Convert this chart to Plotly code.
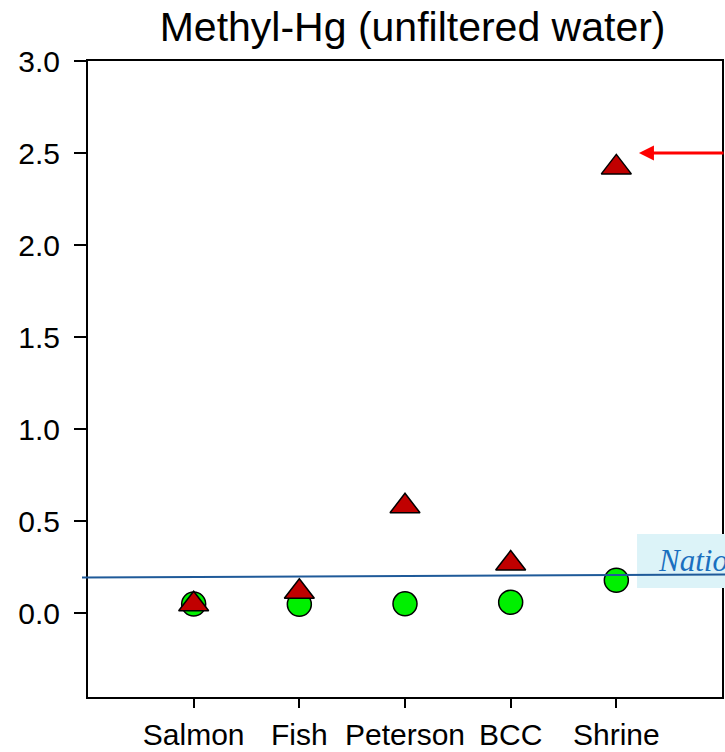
import plotly.graph_objects as go

# Methyl-Hg in unfiltered water at five sites
sites = ["Salmon", "Fish", "Peterson", "BCC", "Shrine"]
mehg_green = [0.050, 0.049, 0.051, 0.060, 0.179]
mehg_red = [0.049, 0.117, 0.581, 0.270, 2.422]

y_ticks = [0.0, 0.5, 1.0, 1.5, 2.0, 2.5, 3.0]
y_tick_text = ["0.0", "0.5", "1.0", "1.5", "2.0", "2.5", "3.0"]

# reference criterion line (value at left / right end) and its label
criterion_ends = [0.194, 0.210]
criterion_label = "National"
criterion_box = [0.1375, 0.431]   # y-extent of the label background

# level the red arrow points at, next to the Shrine triangle
arrow_level = 2.5

fig = go.Figure()

fig.add_trace(go.Scatter(
    x=sites, y=mehg_green, mode="markers",
    marker=dict(symbol="circle", size=24, color="#00f000",
                line=dict(color="black", width=1.5)),
    cliponaxis=False, showlegend=False, hoverinfo="x+y",
))
fig.add_trace(go.Scatter(
    x=sites, y=mehg_red, mode="markers",
    marker=dict(symbol="triangle-up", size=26, color="#c00000",
                line=dict(color="black", width=1.5)),
    cliponaxis=False, showlegend=False, hoverinfo="x+y",
))

axis_font = dict(family="Arial, Liberation Sans, sans-serif", size=30, color="black")

fig.update_layout(
    width=725, height=752,
    margin=dict(l=88, r=3, t=61, b=55),
    paper_bgcolor="white", plot_bgcolor="white",
    title=dict(
        text="Methyl-Hg (unfiltered water)",
        font=dict(family="Arial, Liberation Sans, sans-serif", size=41, color="black"),
        x=0.512, xref="paper", xanchor="center",
        y=0.965, yref="container", yanchor="middle",
    ),
    xaxis=dict(
        range=[-1, 5], type="category", automargin=False,
        showgrid=False, zeroline=False,
        showline=True, linecolor="black", linewidth=2, mirror=True,
        ticks="outside", ticklen=9, tickwidth=1.5, tickcolor="black",
        tickfont=axis_font, ticklabelstandoff=1,
    ),
    yaxis=dict(
        range=[-0.455, 3.0], automargin=False,
        tickvals=y_ticks, ticktext=y_tick_text,
        showgrid=False, zeroline=False,
        showline=True, linecolor="black", linewidth=2, mirror=True,
        ticks="outside", ticklen=12, tickwidth=1.5, tickcolor="black",
        tickfont=axis_font, ticklabelstandoff=8,
    ),
    shapes=[
        dict(type="rect", xref="paper", yref="y",
             x0=0.866, x1=1.1, y0=criterion_box[0], y1=criterion_box[1],
             fillcolor="#dcf3f8", line=dict(width=0), layer="above"),
        dict(type="line", xref="paper", yref="y",
             x0=-0.0095, x1=1.005, y0=criterion_ends[0], y1=criterion_ends[1],
             line=dict(color="#1f5a99", width=2), layer="above"),
    ],
    annotations=[
        dict(text=criterion_label, xref="x", yref="y", x=4.375,
             y=(criterion_box[0] + criterion_box[1]) / 2,
             xanchor="left", yanchor="middle", showarrow=False,
             font=dict(family="Liberation Serif, Times New Roman, serif",
                       size=31, color="#1a6fbf", style="italic")),
        dict(text="", xref="x", yref="y", x=4.214, y=arrow_level,
             ax=110, ay=0, showarrow=True, arrowhead=2, arrowsize=1,
             arrowwidth=3, arrowcolor="#ff0000"),
    ],
)

fig.write_html("out.html")
